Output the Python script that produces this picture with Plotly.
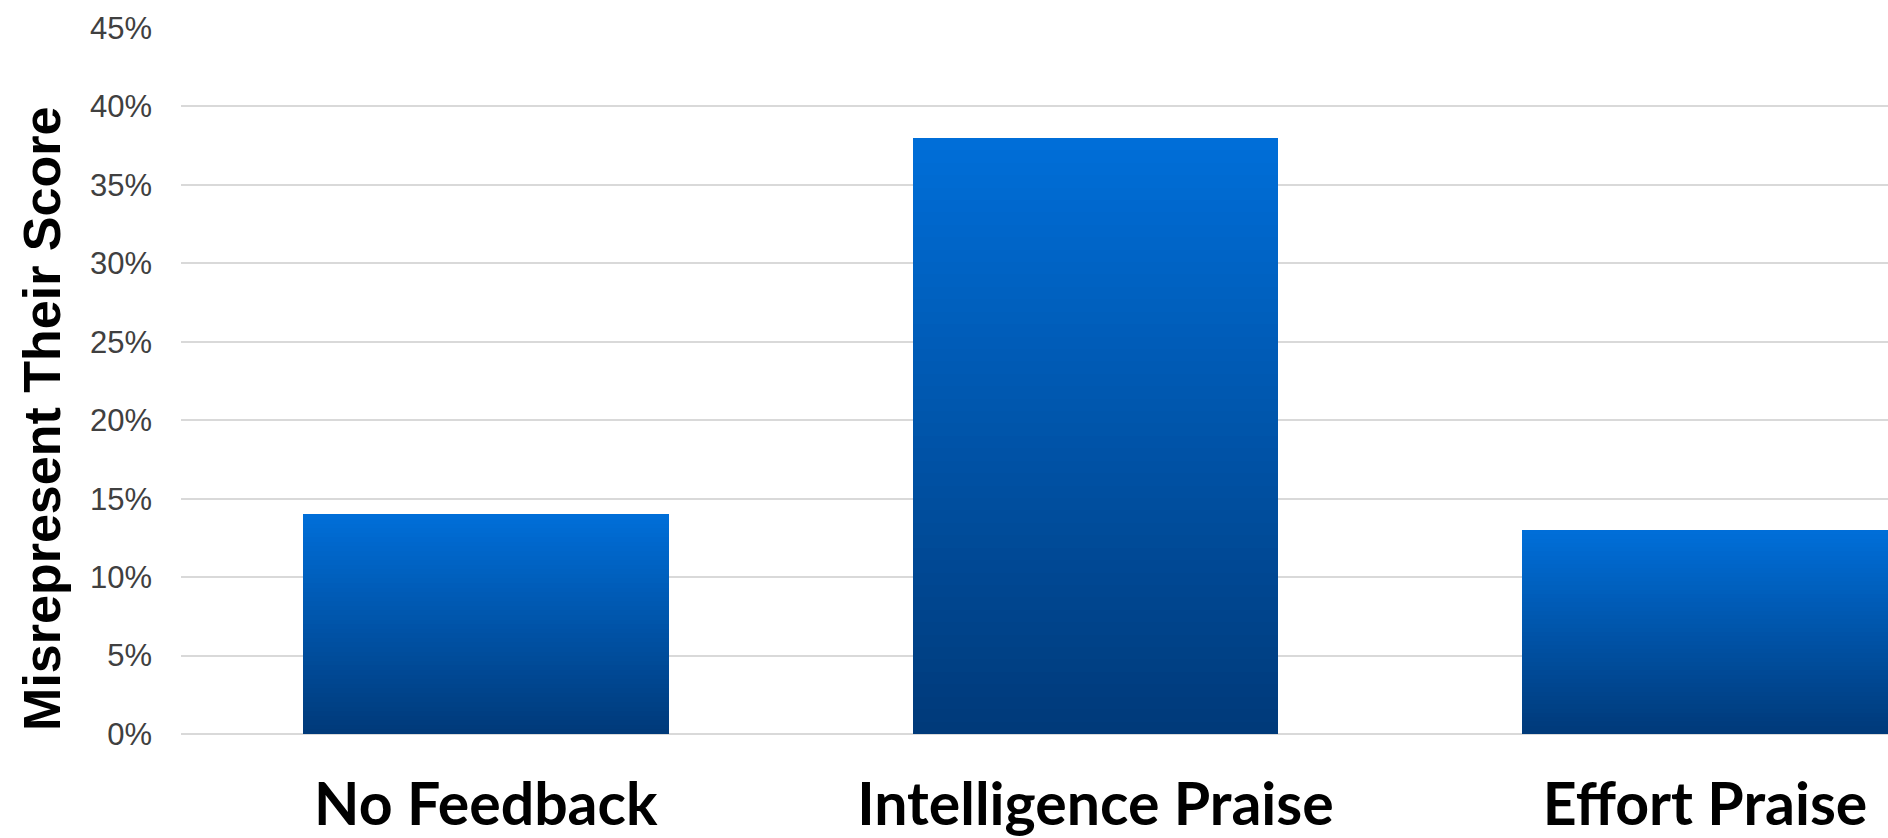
import plotly.graph_objects as go

# ---- data ----
categories = ["No Feedback", "Intelligence Praise", "Effort Praise"]
values = [0.14, 0.38, 0.13]          # share who misrepresent their score
y_ticks = [0, 0.05, 0.10, 0.15, 0.20, 0.25, 0.30, 0.35, 0.40, 0.45]
y_title = "Misrepresent Their Score"

# ---- style ----
TOP = (0, 110, 216)
BOTTOM = (0, 58, 122)
N_SEG = 48  # vertical gradient drawn as stacked slices of each bar

fig = go.Figure()
for i in range(N_SEG):
    t = i / (N_SEG - 1)
    c = tuple(round(BOTTOM[k] + (TOP[k] - BOTTOM[k]) * t) for k in range(3))
    fig.add_trace(go.Bar(
        x=categories,
        y=[v / N_SEG for v in values],
        marker=dict(color=f"rgb{c}", line=dict(width=0)),
        showlegend=False,
        hoverinfo="skip",
    ))

fig.update_layout(
    width=1888, height=838,
    margin=dict(l=181, r=0, t=28, b=102),
    paper_bgcolor="white", plot_bgcolor="white",
    barmode="stack", bargap=0.4,
    xaxis=dict(
        range=[-0.5, 2.3],
        showgrid=False, showline=False, zeroline=False,
        ticks="", ticklabelstandoff=31,
        tickfont=dict(family="Lato", size=59, color="#000000", weight="bold"),
    ),
    yaxis=dict(
        range=[0, 0.45],
        tickvals=y_ticks, tickformat=".0%",
        showgrid=True, gridcolor="#d9d9d9", gridwidth=1.5,
        zeroline=True, zerolinecolor="#d9d9d9", zerolinewidth=1.5,
        showline=False, ticks="", ticklabelstandoff=28,
        tickfont=dict(family="Liberation Sans, Arial", size=31, color="#404040"),
    ),
    annotations=[dict(
        text=y_title, textangle=-90,
        xref="paper", yref="paper",
        x=(42 - 181) / 1707, y=(736 - 420) / 708,
        xanchor="center", yanchor="middle", showarrow=False,
        font=dict(family="Liberation Sans, Arial", size=52, color="#000000", weight="bold"),
    )],
)

fig.write_html("out.html")
